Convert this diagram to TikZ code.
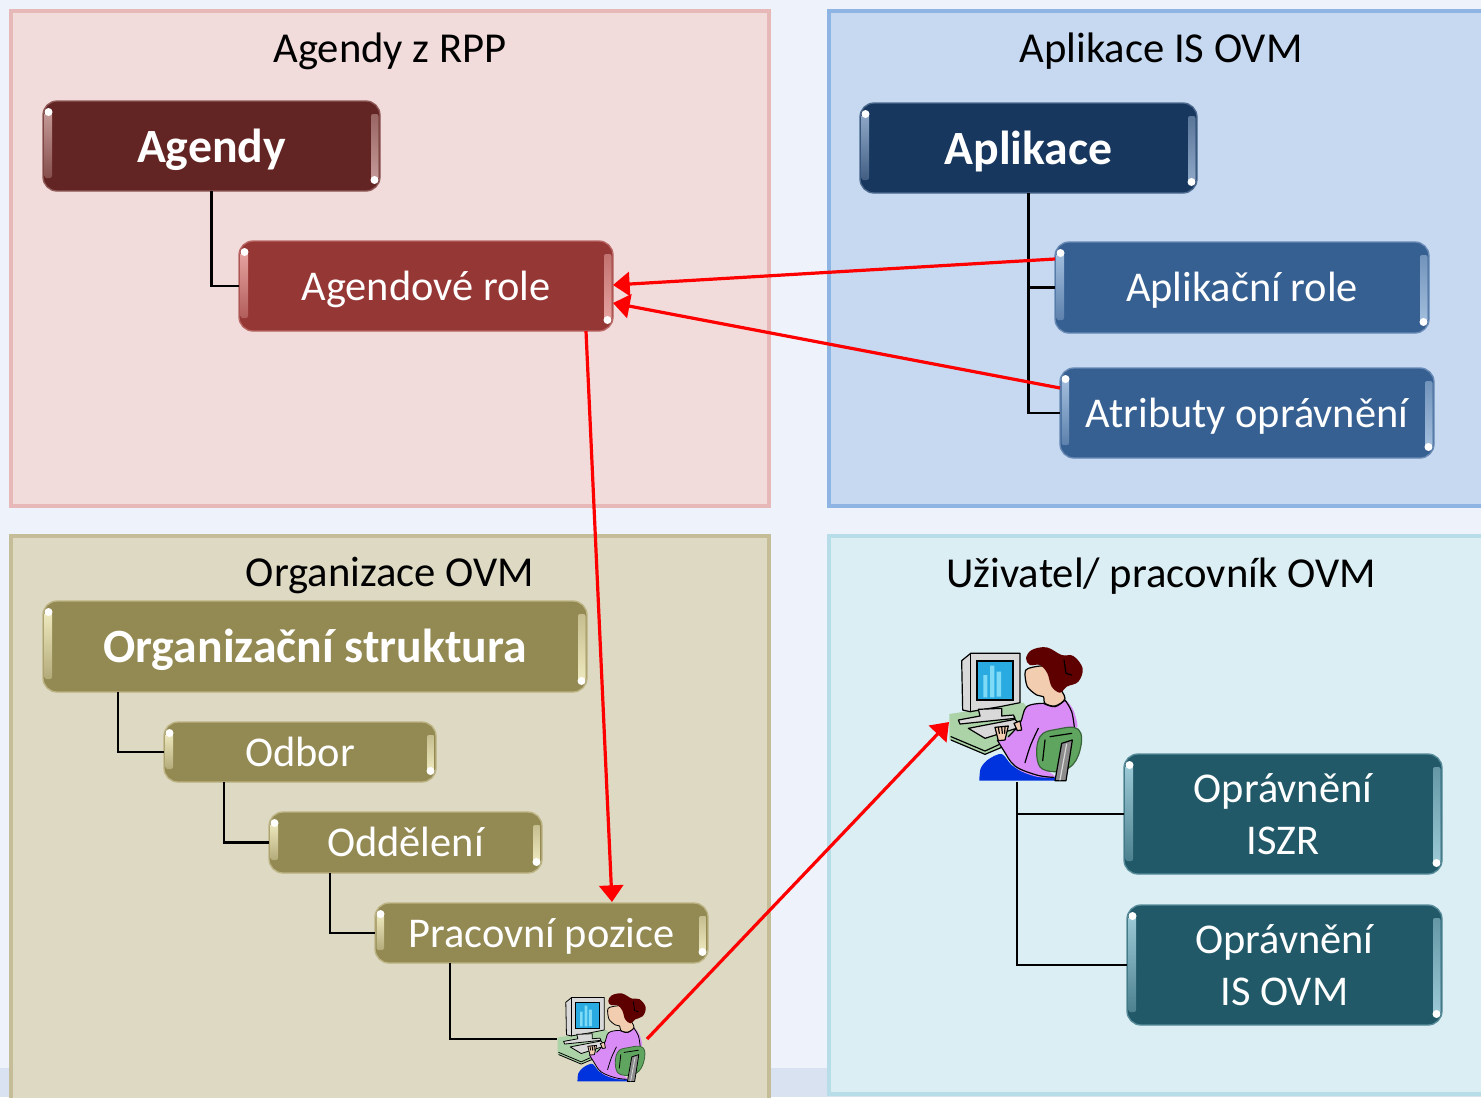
\documentclass[tikz,border=0pt]{standalone}
\usepackage{fontspec}
\setmainfont{Carlito}
\usetikzlibrary{arrows.meta,calc}
\definecolor{bgc}{HTML}{EDF2FB}
\definecolor{bgs}{HTML}{D9E2F0}
\definecolor{agd}{HTML}{632523}\definecolor{agl}{HTML}{C49A98}
\definecolor{ard}{HTML}{953735}\definecolor{arl}{HTML}{E6A3A0}
\definecolor{apd}{HTML}{17375E}\definecolor{apl}{HTML}{8FA8C8}
\definecolor{prd}{HTML}{376092}\definecolor{prl}{HTML}{A3BEDD}
\definecolor{ord}{HTML}{938953}\definecolor{orl}{HTML}{EFE9C0}
\definecolor{opd}{HTML}{215968}\definecolor{opl}{HTML}{9CCAD6}
\definecolor{pinkb}{HTML}{E6B8B7}\definecolor{pinkf}{HTML}{F2DCDB}
\definecolor{blueb}{HTML}{8EB4E3}\definecolor{bluef}{HTML}{C6D9F1}
\definecolor{tanb}{HTML}{C4BD97}\definecolor{tanf}{HTML}{DDD9C3}
\definecolor{aquab}{HTML}{B7DDE8}\definecolor{aquaf}{HTML}{DBEEF4}
\definecolor{deskc}{HTML}{ABD3A7}\definecolor{monc}{HTML}{D9D9D9}
\definecolor{scrc}{HTML}{29ABE2}\definecolor{barc}{HTML}{7FDBF5}
\definecolor{pantc}{HTML}{0033DD}\definecolor{shirtc}{HTML}{D98CF5}
\definecolor{chairc}{HTML}{5FA55F}\definecolor{skinc}{HTML}{F2CDB0}
\definecolor{hairc}{HTML}{5F0000}\definecolor{polec}{HTML}{8C8C8C}
\newcommand{\oneline}[1]{\raisebox{0pt}[0.7em][0.02em]{#1}}
\tikzset{
  x=0.75pt,y=-0.75pt,
  panel/.style={line width=3pt},
  title/.style={font=\fontsize{32}{38}\selectfont,text=black,inner sep=0,yshift=-2.2pt},
  glossy/.style={rounded corners=10.5pt,inner sep=0,text=white,align=center,fill=#1},
  big/.style={font=\fontsize{35.8}{42}\selectfont\bfseries},
  mid/.style={font=\fontsize{31.8}{39}\selectfont},
  tree/.style={draw=black,line width=1.6pt},
  link/.style={draw=red,line width=2.4pt,-{Triangle[length=12.5pt,width=18pt]}},
  ol/.style={draw=black,line width=\pw,line join=round,line cap=round},
}
% name, x1,y1,x2,y2, fill, highlight, style, text
\newcommand{\glossbox}[9]{%
  \pgfmathsetmacro{\cx}{(#2+#4)/2}\pgfmathsetmacro{\cy}{(#3+#5)/2}%
  \pgfmathsetmacro{\bw}{(#4-#2)*0.75}\pgfmathsetmacro{\bh}{(#5-#3)*0.75}%
  \node[glossy=#6,#8,minimum width=\bw pt,minimum height=\bh pt] (#1) at (\cx,\cy) {#9};
  \draw[#7!45!#6,line width=1pt,rounded corners=10.5pt] (#2,#3) rectangle (#4,#5);
  \pgfmathsetmacro{\ax}{#2+1.5}\pgfmathsetmacro{\bx}{#2+9}%
  \pgfmathsetmacro{\ay}{#3+11}\pgfmathsetmacro{\by}{#5-13}%
  \shade[top color=#7,bottom color=#7!35!#6,rounded corners=1.5pt] (\ax,\ay) rectangle (\bx,\by);
  \pgfmathsetmacro{\dy}{#3+11}\pgfmathsetmacro{\dx}{#2+5.5}%
  \fill[white] (\dx,\dy) circle (3pt);
  \pgfmathsetmacro{\ax}{#4-9}\pgfmathsetmacro{\bx}{#4-1.5}%
  \pgfmathsetmacro{\ay}{#3+13}\pgfmathsetmacro{\by}{#5-11}%
  \shade[top color=#7!55!#6,bottom color=#7,rounded corners=1.5pt] (\ax,\ay) rectangle (\bx,\by);
  \pgfmathsetmacro{\dy}{#5-11}\pgfmathsetmacro{\dx}{#4-5.5}%
  \fill[white] (\dx,\dy) circle (3pt);
}
% ox, oy (pixels), unit in pt
\newcommand{\personart}[4]{%
\begin{scope}[shift={(#1,#2)},x=#3pt,y=-#3pt]
\def\pw{#4pt}
 \fill[deskc] (28,222)--(250,188)--(300,250)--(240,300)--(135,342)--(28,298)--cycle;
 \draw[ol] (33,290)--(135,333)--(240,285) (33,300)--(135,343)--(225,305);
 \filldraw[ol,fill=monc] (65,62)--(92,40)--(240,40)--(240,188)--(180,200)--(90,215)--(68,210)--cycle;
 \draw[ol] (92,40)--(92,215);
 \fill[black] (108,60) rectangle (222,184);
 \fill[scrc] (113,65) rectangle (217,178);
 \fill[barc] (130,105) rectangle (142,172) (150,77) rectangle (163,172) (170,95) rectangle (183,170);
 \filldraw[ol,fill=monc] (115,208)--(120,228)--(55,240)--(60,252)--(225,235)--(220,225)--(185,228)--(185,205)--cycle;
 \filldraw[ol,fill=monc] (85,265)--(225,238)--(245,260)--(135,295)--cycle;
 \fill[pantc] plot[smooth,tension=0.5] coordinates {(118,422)(122,385)(145,358)(185,342)(215,375)(260,400)(345,410)} -- (345,422) -- cycle;
 \fill[shirtc] plot[smooth cycle,tension=0.5] coordinates {(310,190)(345,200)(375,180)(400,210)(412,260)(385,265)(320,280)(300,330)(300,375)(345,410)(290,410)(230,385)(190,330)(172,300)(205,290)(240,250)(260,200)};
 \draw[ol] plot[smooth,tension=0.6] coordinates {(310,190)(345,200)(375,180)};
 \draw[ol] plot[smooth,tension=0.6] coordinates {(375,180)(395,215)(403,262)};
 \draw[ol] plot[smooth,tension=0.6] coordinates {(205,290)(240,250)(260,200)(310,190)};
 \draw[ol] plot[smooth,tension=0.6] coordinates {(172,300)(190,330)(225,378)(290,405)(340,412)};
 \draw[ol] plot[smooth,tension=0.6] coordinates {(295,265)(272,315)(255,368)};
 \filldraw[draw=chairc!60!black,line width=\pw,fill=chairc] plot[smooth cycle,tension=0.7] coordinates {(300,290)(350,268)(415,268)(420,330)(385,385)(320,392)(292,360)};
 \draw[ol] (315,300)--(308,362) (330,290)--(395,280);
 \filldraw[ol,fill=polec] (365,310)--(397,300)--(378,422)--(345,422)--cycle;
 \draw[ol,draw=monc] (380,312)--(360,420);
 \filldraw[ol,fill=skinc] (165,262)--(205,258)--(195,300)--(175,302)--cycle;
 \draw[ol] (175,262)--(178,280) (185,260)--(187,280) (195,259)--(194,280);
 \filldraw[ol,fill=skinc] (222,250)--(240,243)--(245,270)--(232,272)--cycle;
 \filldraw[ol,fill=skinc] plot[smooth cycle,tension=0.5] coordinates {(265,85)(255,100)(262,140)(290,165)(310,170)(315,190)(345,198)(375,175)(350,130)(320,80)};
 \fill[hairc] plot[smooth cycle,tension=0.6] coordinates {(258,55)(275,30)(320,22)(365,45)(400,48)(428,85)(415,125)(380,140)(360,158)(335,140)(322,100)(300,75)(270,75)};
 \draw[ol] (372,60)--(378,100)--(395,105);
\end{scope}}
\begin{document}
\begin{tikzpicture}
\useasboundingbox (0,0) rectangle (1481,1097);
\fill[bgc] (0,0) rectangle (1481,1097);
\fill[bgs] (0,1068) rectangle (1481,1097);
\begin{scope}
\clip (0,0) rectangle (1481,1097);
\filldraw[panel,draw=pinkb,fill=pinkf] (11,11) rectangle (769,506);
\filldraw[panel,draw=blueb,fill=bluef] (829,11) rectangle (1495,506);
\filldraw[panel,draw=tanb,fill=tanf] (11,536) rectangle (769,1115);
\filldraw[panel,draw=aquab,fill=aquaf] (829,536) rectangle (1495,1094);
\end{scope}
\node[title] (t1) at (390,48) {Agendy z RPP};
\node[title] (t2) at (1161,48) {Aplikace IS OVM};
\node[title] (t3) at (390,573) {Organizace OVM};
\node[title] (t4) at (1161,573) {Uživatel/ pracovník OVM};

\glossbox{agendy}{43}{101}{380}{191}{agd}{agl}{big}{\oneline{Agendy}}
\glossbox{arole}{239}{241}{613}{331}{ard}{arl}{mid}{\oneline{Agendové role}}
\glossbox{aplk}{860}{103}{1197}{193}{apd}{apl}{big}{\oneline{Aplikace}}
\glossbox{aprole}{1055}{242}{1429}{333}{prd}{prl}{mid}{\oneline{Aplikační role}}
\glossbox{atr}{1060}{368}{1434}{458}{prd}{prl}{mid}{\oneline{Atributy oprávnění}}
\glossbox{org}{43}{601}{587}{692}{ord}{orl}{big}{\oneline{Organizační struktura}}
\glossbox{odb}{164}{722}{436}{782}{ord}{orl}{mid}{\oneline{Odbor}}
\glossbox{odd}{269}{812}{542}{873}{ord}{orl}{mid}{\oneline{Oddělení}}
\glossbox{poz}{375}{903}{708}{963}{ord}{orl}{mid}{\oneline{Pracovní pozice}}
\glossbox{iszr}{1124}{754}{1442}{874}{opd}{opl}{mid}{Oprávnění\\ISZR}
\glossbox{isovm}{1127}{905}{1442}{1025}{opd}{opl}{mid}{Oprávnění\\IS OVM}

\personart{940}{640}{0.25}{0.9}
\personart{551.5}{988.6}{0.165}{0.6}
\node[inner sep=0,minimum width=67.5pt,minimum height=67.5pt] (p1) at (602,1038) {};
\node[inner sep=0,minimum width=102.75pt,minimum height=102.75pt] (p2) at (1016.5,713.5) {};

% tree connectors
\draw[tree] (agendy.south) |- (arole.west);
\draw[tree] (aplk.south) |- (aprole.west);
\draw[tree] (aplk.south) |- (atr.west);
\coordinate (c1) at (118,692);
\coordinate (c2) at (224,782);
\coordinate (c3) at (330,873);
\coordinate (c4) at (450,963);
\coordinate (c5) at (1017,782);
\coordinate (c6) at (557,1039);
\draw[tree] (c1) |- (odb.west);
\draw[tree] (c2) |- (odd.west);
\draw[tree] (c3) |- (poz.west);
\draw[tree] (c4) |- (c6);
\draw[tree] (c5) |- (iszr.west);
\draw[tree] (c5) |- (isovm.west);

% red links
\coordinate (r1) at (1055,259);
\coordinate (r2) at (613,285);
\coordinate (r3) at (1060,388);
\coordinate (r4) at (613,303);
\coordinate (r5) at (586,331);
\coordinate (r6) at (612,902);
\coordinate (r7) at (647,1039);
\coordinate (r8) at (949,722);
\draw[link] (r1) -- (r2);
\draw[link] (r3) -- (r4);
\draw[link] (r5) -- (r6);
\draw[link] (r7) -- (r8);
\end{tikzpicture}
\end{document}
